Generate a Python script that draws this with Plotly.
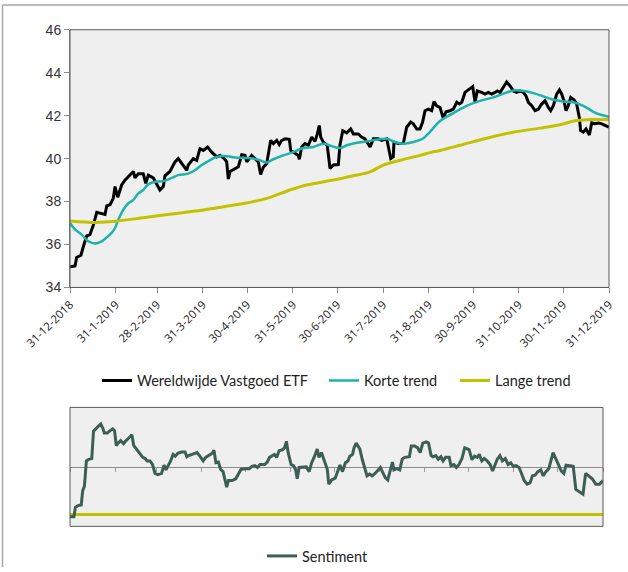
import pandas as pd
import plotly.graph_objects as go

START = pd.Timestamp("2018-12-31")

# ---- Main chart data (days after 31-12-2018, value) ----
etf_days = [0, 3.4, 4.5, 7.4, 8.8, 11.3, 13.5, 15.8, 18.1, 20.3, 23.7, 24.9, 27.1, 29.3, 30.5, 32.3, 35.0,
            37.2, 40.6, 42.9, 44.0, 46.3, 49.6, 51.3, 53.0, 56.4, 58.0, 60.9, 63.2, 64.3, 67.7, 71.1, 73.3,
            76.7, 79.0, 80.1, 83.5, 85.8, 88.0, 90.3, 93.2, 96.0, 99.3, 101.6, 104.5, 106.1, 107.2, 108.4,
            111.7, 114.0, 116.3, 118.5, 119.7, 123.0, 125.3, 127.5, 129.1, 130.9, 133.2, 134.3, 135.9, 137.7,
            140.0, 141.7, 143.4, 145.6, 148.5, 149.5, 152.4, 154.6, 155.3, 156.9, 159.1, 161.4, 163.7, 165.9,
            167.5, 168.8, 169.8, 171.5, 174.2, 176.1, 178.3, 181.7, 182.8, 184.7, 187.4, 190.1, 191.9, 195.2,
            197.5, 199.8, 203.2, 205.4, 208.8, 211.1, 214.5, 215.6, 217.2, 218.9, 219.4, 222.3, 225.7, 228.0,
            230.7, 232.5, 234.8, 237.0, 238.8, 240.4, 242.6, 244.9, 246.5, 248.3, 250.6, 252.8, 254.6, 257.3,
            259.6, 261.9, 263.6, 265.3, 267.5, 269.7, 271.4, 272.7, 274.3, 275.8, 278.8, 281.0, 283.3, 285.6,
            287.8, 289.4, 291.2, 293.4, 295.7, 298.0, 300.2, 302.5, 304.7, 307.0, 308.8, 310.4, 312.7, 314.9,
            317.1, 319.4, 321.7, 323.9, 325.5, 327.3, 329.6, 331.4, 333.0, 334.5, 335.9, 337.4, 339.1, 341.3,
            343.1, 344.9, 345.8, 347.6, 349.4, 351.7, 353.3, 355.5, 357.8, 360.1, 362.3, 365.0]
etf_values = [34.96, 35.0, 35.4, 35.5, 35.85, 36.4, 36.46, 36.9, 37.5, 37.46, 37.4, 37.8, 37.85, 38.15, 38.7,
              38.2, 38.77, 39.0, 39.23, 39.4, 39.1, 39.3, 39.3, 38.85, 39.23, 39.1, 38.9, 38.54, 38.7, 39.2,
              39.4, 39.85, 40.0, 39.7, 39.46, 39.7, 40.0, 39.92, 40.46, 40.38, 40.54, 40.3, 40.08, 40.15, 40.0,
              39.85, 39.05, 39.4, 39.54, 39.62, 40.18, 40.15, 39.85, 40.15, 40.0, 39.85, 39.26, 39.6, 39.77,
              40.15, 40.85, 40.7, 40.85, 40.65, 40.85, 40.92, 40.9, 40.38, 40.23, 40.15, 39.97, 40.54, 40.7,
              40.62, 41.0, 40.8, 41.15, 41.54, 41.0, 40.77, 40.62, 39.54, 39.7, 39.72, 40.62, 41.3, 41.2, 41.38,
              41.15, 41.15, 41.0, 40.92, 40.54, 40.92, 40.92, 40.85, 40.92, 40.46, 40.0, 40.08, 40.77, 40.7,
              40.7, 41.46, 41.7, 41.62, 41.38, 41.38, 41.7, 42.23, 42.3, 42.23, 42.65, 42.46, 42.38, 41.88,
              42.18, 42.23, 42.3, 42.62, 42.54, 42.62, 43.08, 43.2, 43.3, 43.35, 42.62, 43.15, 43.08, 43.0,
              43.08, 43.0, 43.08, 43.15, 43.08, 43.3, 43.57, 43.38, 43.15, 43.08, 43.15, 43.08, 42.92, 42.62,
              42.46, 42.23, 42.3, 42.54, 42.69, 42.38, 42.23, 42.46, 43.0, 43.2, 43.0, 42.69, 42.23, 42.46,
              42.85, 42.74, 42.54, 41.92, 41.3, 41.23, 41.38, 41.1, 41.66, 41.62, 41.66, 41.62, 41.54, 41.46]

short_days = [0, 3.4, 7.9, 12.4, 16.9, 21.5, 24.9, 28.2, 30.5, 32.7, 36.1, 39.5, 42.9, 46.3, 49.6, 53.0, 57.6,
              63.2, 68.9, 73.3, 80.1, 84.6, 89.2, 93.7, 99.3, 105.0, 111.7, 118.5, 124.1, 128.7, 133.2, 137.7,
              144.4, 151.2, 158.0, 164.8, 171.5, 177.2, 182.8, 187.4, 194.1, 200.9, 207.7, 214.5, 220.1, 225.7,
              232.5, 239.3, 243.8, 250.6, 259.6, 268.6, 277.7, 286.7, 295.7, 301.4, 307.0, 313.8, 320.5, 327.3,
              334.1, 340.8, 347.6, 354.4, 360.1, 365.0]
short_values = [37.0, 36.7, 36.46, 36.15, 36.05, 36.15, 36.34, 36.54, 36.77, 37.15, 37.62, 37.92, 38.08, 38.38,
                38.54, 38.8, 38.92, 38.95, 39.1, 39.23, 39.3, 39.46, 39.7, 39.88, 40.08, 40.12, 40.05, 40.03,
                40.0, 39.92, 39.82, 39.97, 40.15, 40.3, 40.49, 40.54, 40.69, 40.58, 40.49, 40.62, 40.74, 40.8,
                40.88, 40.92, 40.77, 40.69, 40.77, 40.95, 41.25, 41.75, 42.12, 42.46, 42.69, 42.85, 43.08, 43.18,
                43.15, 43.05, 42.9, 42.74, 42.66, 42.62, 42.46, 42.18, 42.03, 41.95]

long_days = [0, 16.9, 30.5, 50.8, 73.3, 91.4, 105.0, 118.5, 133.2, 149.0, 160.3, 178.3, 191.9, 203.2, 212.2,
             223.5, 237.0, 243.8, 250.6, 264.1, 282.2, 300.2, 318.3, 331.8, 343.1, 354.4, 365.0]
long_values = [37.1, 37.03, 37.08, 37.26, 37.46, 37.62, 37.77, 37.92, 38.15, 38.54, 38.77, 39.0, 39.2, 39.38,
               39.7, 39.92, 40.15, 40.28, 40.38, 40.62, 40.95, 41.23, 41.42, 41.58, 41.77, 41.82, 41.82]

# ---- Sentiment data ----
sent_days = [0, 2.7, 3.7, 5.7, 7.7, 8.7, 9.9, 11.2, 13.1, 14.9, 16.1, 18.1, 19.3, 21.1, 22.5, 23.5, 25.5, 27.5,
             29.2, 30.5, 31.7, 33.0, 34.7, 36.7, 37.9, 40.4, 42.4, 43.6, 45.3, 47.8, 49.8, 51.5, 52.8, 54.8, 56.5,
             58.2, 60.2, 62.7, 64.4, 65.7, 67.2, 68.9, 70.6, 72.1, 73.8, 76.3, 78.8, 80.0, 81.3, 83.8, 87.0, 88.7,
             91.2, 92.9, 94.9, 97.4, 98.6, 99.9, 101.6, 103.1, 104.8, 106.1, 107.3, 108.5, 111.0, 113.5, 115.2,
             117.2, 120.2, 122.7, 124.6, 126.6, 128.4, 130.1, 133.3, 135.1, 136.6, 138.3, 140.0, 141.5, 143.2,
             145.7, 146.9, 148.2, 149.4, 151.4, 153.1, 154.4, 155.6, 156.9, 159.3, 161.8, 163.8, 165.5, 167.5,
             169.3, 170.5, 172.2, 174.2, 176.2, 177.2, 179.2, 181.6, 183.4, 184.9, 186.6, 188.6, 190.3, 191.6,
             193.5, 194.5, 196.0, 198.5, 200.2, 202.0, 203.4, 205.2, 206.9, 208.9, 210.9, 212.6, 213.9, 215.9,
             217.6, 219.4, 220.8, 221.8, 223.8, 225.8, 227.5, 229.2, 231.2, 232.4, 233.7, 236.1, 238.1, 239.8,
             241.6, 244.0, 245.5, 247.3, 248.5, 250.5, 252.2, 254.0, 255.5, 257.2, 259.7, 260.9, 262.9, 264.6,
             266.4, 268.4, 270.3, 273.3, 275.3, 277.0, 278.8, 280.3, 282.0, 283.7, 285.7, 287.7, 289.4, 290.7,
             292.6, 294.4, 296.1, 298.1, 300.0, 301.8, 303.5, 305.5, 307.5, 309.2, 311.0, 313.0, 315.0, 316.7,
             318.5, 320.4, 322.4, 324.1, 325.9, 327.9, 329.1, 330.8, 332.8, 334.8, 336.5, 338.2, 339.7, 342.2,
             344.6, 346.4, 348.9, 351.3, 353.1, 355.1, 357.6, 360.1, 362.6, 365.0]
sent_values = [-0.84, -0.84, -0.68, -0.65, -0.64, -0.40, -0.32, 0.10, 0.13, 0.14, 0.60, 0.64, 0.68, 0.72, 0.65,
               0.57, 0.57, 0.61, 0.64, 0.61, 0.36, 0.40, 0.44, 0.39, 0.43, 0.49, 0.54, 0.36, 0.30, 0.23, 0.16,
               0.14, 0.10, 0.10, 0.04, -0.11, -0.13, -0.11, 0.03, -0.05, 0.02, 0.10, 0.21, 0.18, 0.23, 0.25, 0.25,
               0.17, 0.19, 0.21, 0.24, 0.19, 0.10, 0.16, 0.19, 0.23, 0.28, 0.07, 0.08, -0.04, -0.08, -0.23, -0.34,
               -0.23, -0.23, -0.20, -0.12, -0.04, -0.03, -0.03, 0.01, 0.02, -0.01, 0.04, 0.04, 0.08, 0.16, 0.18,
               0.21, 0.16, 0.27, 0.29, 0.32, 0.43, 0.24, 0.04, 0.02, -0.04, -0.20, -0.01, -0.01, 0.0, -0.08, 0.07,
               0.18, 0.30, 0.16, 0.24, 0.10, -0.04, -0.29, -0.22, -0.19, -0.07, 0.03, -0.08, 0.07, 0.10, 0.18,
               0.21, 0.32, 0.40, 0.30, 0.12, -0.04, -0.15, -0.12, -0.15, -0.11, -0.05, -0.01, -0.08, -0.18, -0.22,
               -0.07, 0.08, -0.05, -0.03, -0.05, 0.13, 0.16, 0.17, 0.17, 0.35, 0.35, 0.32, 0.24, 0.40, 0.42, 0.40,
               0.19, 0.17, 0.19, 0.13, 0.17, 0.10, 0.16, 0.16, 0.02, 0.04, -0.01, 0.04, 0.14, 0.32, 0.29, 0.12,
               0.18, 0.16, 0.21, 0.10, 0.14, 0.10, 0.04, -0.07, 0.02, 0.13, 0.19, 0.10, 0.14, 0.04, 0.07, 0.01,
               0.02, -0.01, -0.11, -0.23, -0.29, -0.27, -0.15, -0.14, -0.08, -0.05, -0.15, -0.08, -0.03, 0.07,
               0.24, 0.13, 0.03, -0.07, -0.11, 0.03, 0.02, 0.01, -0.38, -0.42, -0.46, -0.11, -0.15, -0.20, -0.29,
               -0.29, -0.23]
sent_floor = -0.8

tick_dates = ["2018-12-31", "2019-01-31", "2019-02-28", "2019-03-31", "2019-04-30", "2019-05-31", "2019-06-30",
              "2019-07-31", "2019-08-31", "2019-09-30", "2019-10-31", "2019-11-30", "2019-12-31"]
tick_labels = ["31-12-2018", "31-1-2019", "28-2-2019", "31-3-2019", "30-4-2019", "31-5-2019", "30-6-2019",
               "31-7-2019", "31-8-2019", "30-9-2019", "31-10-2019", "30-11-2019", "31-12-2019"]


def to_dates(days):
    return START + pd.to_timedelta(days, unit="D")


W, H = 628, 572
BLACK = "#000000"
CYAN = "#1bb3ab"
YELLOW = "#c2c200"
SENT = "#3d5e55"

fig = go.Figure()
fig.add_trace(go.Scatter(x=to_dates(etf_days), y=etf_values, mode="lines", name="Wereldwijde Vastgoed ETF",
                         line=dict(color=BLACK, width=3), xaxis="x", yaxis="y", legend="legend"))
fig.add_trace(go.Scatter(x=to_dates(short_days), y=short_values, mode="lines", name="Korte trend",
                         line=dict(color=CYAN, width=2.5, shape="spline"), xaxis="x", yaxis="y", legend="legend3"))
fig.add_trace(go.Scatter(x=to_dates(long_days), y=long_values, mode="lines", name="Lange trend",
                         line=dict(color=YELLOW, width=3, shape="spline"), xaxis="x", yaxis="y", legend="legend4"))

fig.add_trace(go.Scatter(x=to_dates([0, 365]), y=[sent_floor, sent_floor], mode="lines", showlegend=False,
                         line=dict(color=YELLOW, width=3), xaxis="x2", yaxis="y2"))
fig.add_trace(go.Scatter(x=to_dates(sent_days), y=sent_values, mode="lines", name="Sentiment",
                         line=dict(color=SENT, width=3), xaxis="x2", yaxis="y2", legend="legend2"))

x_dom1 = [70 / W, 609 / W]
y_dom1 = [1 - 290 / H, 1 - 30 / H]
x_dom2 = [70 / W, 603 / W]
y_dom2 = [1 - 531 / H, 1 - 411 / H]

font_fam = "Lato, 'Open Sans', sans-serif"


def leg(text_left_px, y_px):
    return dict(orientation="h", x=(text_left_px - 39) / W, xanchor="left", y=1 - y_px / H, yanchor="middle",
                font=dict(family=font_fam, size=14.5, color="#222222"), bgcolor="rgba(0,0,0,0)",
                itemwidth=30)


fig.update_layout(
    template="none",
    width=W, height=H,
    margin=dict(l=0, r=0, t=0, b=0),
    paper_bgcolor="white",
    plot_bgcolor="#efefef",
    font=dict(family=font_fam, color="#222222"),
    xaxis=dict(domain=x_dom1, anchor="y", type="date", range=[tick_dates[0], tick_dates[-1]],
               tickvals=tick_dates, ticktext=tick_labels, tickangle=-45,
               tickfont=dict(family="'Open Sans', sans-serif", size=11.5, color="#222222"),
               ticks="outside", ticklen=5, tickcolor="#8c8c8c", showline=True, linecolor="#8c8c8c",
               linewidth=1, showgrid=False, zeroline=False, automargin=False),
    yaxis=dict(domain=y_dom1, anchor="x", range=[34, 46], tickvals=[34, 36, 38, 40, 42, 44, 46],
               tickfont=dict(family="'Liberation Sans', Arial, sans-serif", size=14, color="#333333"),
               ticks="outside", ticklen=5, tickcolor="#8c8c8c", showline=True, linecolor="#8c8c8c",
               linewidth=1, showgrid=False, zeroline=False, automargin=False),
    xaxis2=dict(domain=x_dom2, anchor="free", position=(y_dom2[0] + y_dom2[1]) / 2, type="date",
                range=[tick_dates[0], tick_dates[-1]], tickvals=tick_dates, showticklabels=False,
                ticks="outside", ticklen=4, tickcolor="#9a9a9a", showline=True, linecolor="#8c8c8c",
                linewidth=1, showgrid=False, zeroline=False, layer="below traces", automargin=False),
    yaxis2=dict(domain=y_dom2, anchor="x2", range=[-1, 1], showticklabels=False, ticks="",
                showline=False, showgrid=False, zeroline=False, automargin=False),
    legend=leg(136, 384),
    legend3=leg(363, 384),
    legend4=leg(494, 384),
    legend2=leg(301, 561),
    shapes=[
        dict(type="rect", xref="x domain", yref="y domain", x0=0, x1=1, y0=0, y1=1,
             line=dict(color="#5a5a5a", width=1), layer="above"),
        dict(type="rect", xref="x2 domain", yref="y2 domain", x0=0, x1=1, y0=0, y1=1,
             line=dict(color="#5a5a5a", width=1), layer="above"),
        dict(type="line", xref="paper", yref="paper", x0=2.5 / W, x1=2.5 / W, y0=0, y1=1 - 5 / H,
             line=dict(color="#a6a6a6", width=1.5)),
        dict(type="line", xref="paper", yref="paper", x0=2.5 / W, x1=1, y0=1 - 5 / H, y1=1 - 5 / H,
             line=dict(color="#a6a6a6", width=1.5)),
    ],
)

fig.write_html("out.html", config={"displayModeBar": False},
               post_script="document.body.style.margin='0';document.body.style.overflow='hidden';")
